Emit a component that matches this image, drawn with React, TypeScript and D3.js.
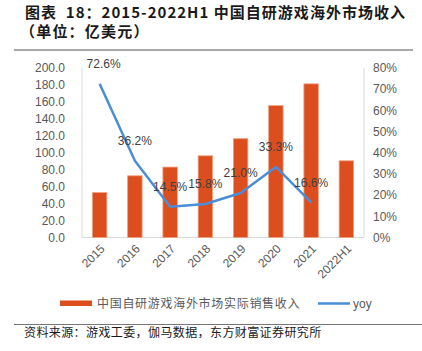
import React from 'react';
import * as d3 from 'd3';

const years = ['2015', '2016', '2017', '2018', '2019', '2020', '2021', '2022H1'];
const revenue = [53.0, 72.8, 83.1, 96.4, 116.6, 155.6, 181.3, 90.5];
const yoy = [72.6, 36.2, 14.5, 15.8, 21.0, 33.3, 16.6];
const leftTicks = [0, 20, 40, 60, 80, 100, 120, 140, 160, 180, 200];
const rightTicks = [0, 10, 20, 30, 40, 50, 60, 70, 80];

const W = 422;
const H = 351;
const left = 82;
const right = 364;
const top = 68;
const bottom = 237.5;

const font = 'Liberation Sans, Arial, sans-serif';
const cjk = '"Noto Sans CJK SC", sans-serif';

const App: React.FC = () => {
  const x = d3.scaleBand<string>().domain(years).range([left, right]).padding(0);
  const y = d3.scaleLinear().domain([0, 200]).range([bottom, top]);
  const y2 = d3.scaleLinear().domain([0, 80]).range([bottom, top]);
  const barW = x.bandwidth() * 0.41;
  const cx = (d: string) => (x(d) as number) + x.bandwidth() / 2;

  const line = d3.line<number>()
    .x((_, i) => cx(years[i]))
    .y(d => y2(d));

  return (
    <svg width={W} height={H} style={{ position: 'absolute', left: 0, top: 0, background: '#fff' }}>
      <text x={25} y={18} fontFamily={cjk} fontWeight="bold" fontSize={15} fill="#1a1a1a"
        textLength={380} lengthAdjust="spacing" style={{ whiteSpace: 'pre' }}>
        {'图表  18：2015-2022H1 中国自研游戏海外市场收入'}
      </text>
      <text x={20} y={37} fontFamily={cjk} fontWeight="bold" fontSize={15} letterSpacing={1.2} fill="#1a1a1a">
        （单位：亿美元）
      </text>
      <line x1={14} x2={413} y1={50} y2={50} stroke="#555" strokeWidth={1} />

      {/* axes frame */}
      <line x1={left} x2={left} y1={top} y2={bottom} stroke="#d9d9d9" />
      <line x1={right} x2={right} y1={top} y2={bottom} stroke="#d9d9d9" />
      <line x1={left} x2={right} y1={bottom} y2={bottom} stroke="#d9d9d9" />

      {leftTicks.map(t => (
        <text key={t} x={65} y={y(t)} dy="0.35em" textAnchor="end" fontFamily={font} fontSize={12} fill="#595959">
          {t.toFixed(1)}
        </text>
      ))}
      {rightTicks.map(t => (
        <text key={t} x={373} y={y2(t)} dy="0.35em" fontFamily={font} fontSize={12} fill="#595959">
          {t}%
        </text>
      ))}

      {years.map((d, i) => (
        <rect key={d} x={cx(d) - barW / 2} y={y(revenue[i])} width={barW} height={bottom - y(revenue[i])}
          fill="#dd4e1e" stroke="#f0a07e" strokeWidth={0.8} />
      ))}

      {years.map(d => (
        <text key={d} transform={`translate(${cx(d) + 3},${bottom + 9}) rotate(-45)`} textAnchor="end"
          dy="0.35em" fontFamily={font} fontSize={12} fill="#595959">
          {d}
        </text>
      ))}

      <path d={line(yoy) ?? ''} fill="none" stroke="#4a8ed8" strokeWidth={2.5} strokeLinejoin="round" />
      {yoy.map((v, i) => (
        <text key={i} x={cx(years[i]) + (i === 0 ? 4 : 0)} y={y2(v) - 20} dy="0.35em" textAnchor="middle"
          fontFamily={font} fontSize={12} fill="#404040">
          {v.toFixed(1)}%
        </text>
      ))}

      {/* legend */}
      <rect x={60} y={300.5} width={32} height={5.5} fill="#dd4e1e" />
      <text x={97} y={303.5} dy="0.35em" fontFamily={cjk} fontSize={12} letterSpacing={0.7} fill="#595959">
        中国自研游戏海外市场实际销售收入
      </text>
      <line x1={318} x2={350} y1={303.5} y2={303.5} stroke="#4a8ed8" strokeWidth={2.5} />
      <text x={353} y={303.5} dy="0.35em" fontFamily={font} fontSize={12} fill="#595959">yoy</text>

      <line x1={14} x2={422} y1={324.5} y2={324.5} stroke="#777" strokeWidth={1.2} />
      <text x={24} y={333} dy="0.35em" fontFamily={cjk} fontSize={12} letterSpacing={0.4} fill="#1a1a1a">
        资料来源：游戏工委，伽马数据，东方财富证券研究所
      </text>
    </svg>
  );
};

export default App;
